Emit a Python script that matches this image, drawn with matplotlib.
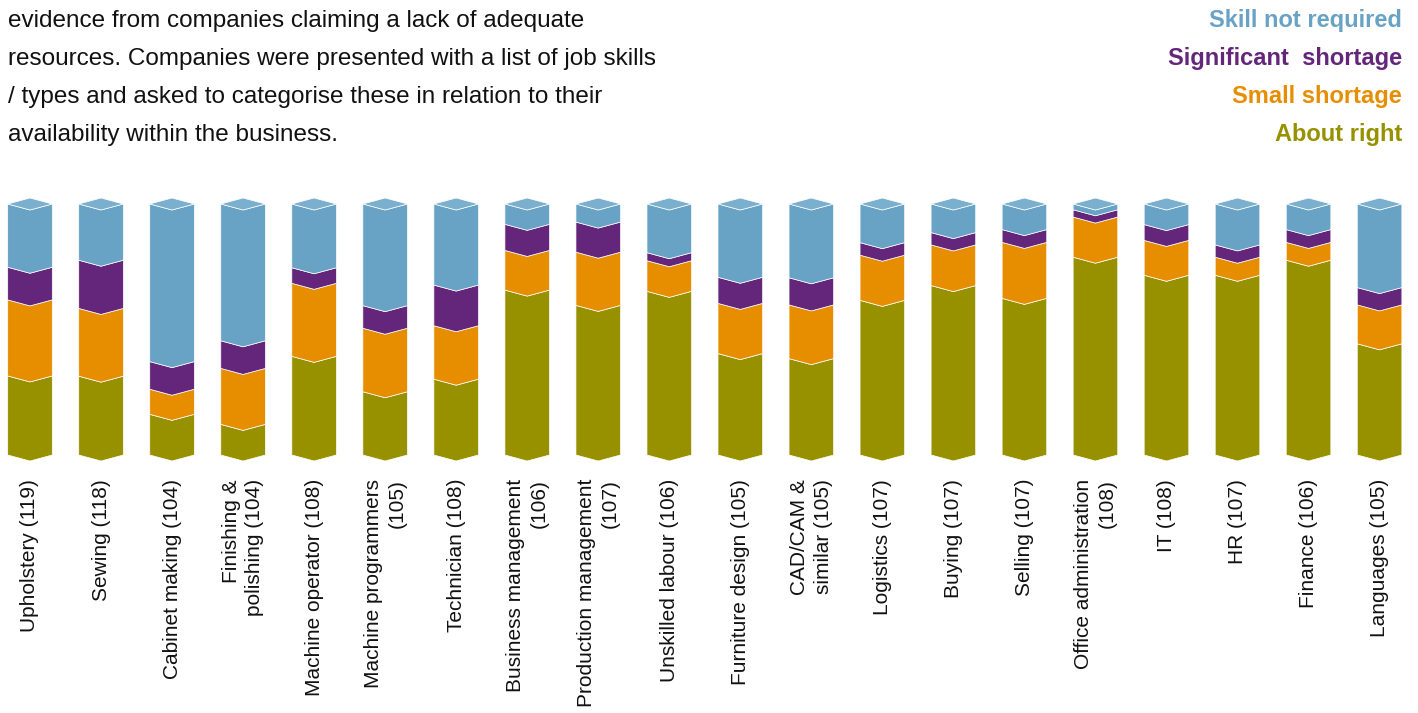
import matplotlib.pyplot as plt
from matplotlib.patches import Polygon

plt.rcParams['font.family'] = ['Liberation Sans', 'DejaVu Sans']

# Share of companies (%) per skill / job type
skills = ["Upholstery (119)", "Sewing (118)", "Cabinet making (104)",
          "Finishing &\npolishing (104)", "Machine operator (108)",
          "Machine programmers\n(105)", "Technician (108)",
          "Business management\n(106)", "Production management\n(107)",
          "Unskilled labour (106)", "Furniture design (105)",
          "CAD/CAM &\nsimilar (105)", "Logistics (107)", "Buying (107)",
          "Selling (107)", "Office administration\n(108)", "IT (108)",
          "HR (107)", "Finance (106)", "Languages (105)"]
about_right = [31.5, 31.4, 16.2, 12.2, 39.3, 25.2, 30.2, 65.7, 59.6, 65.2,
               40.4, 38.4, 61.6, 67.5, 62.4, 78.8, 71.6, 71.6, 77.6, 44.3]
small_shortage = [30.3, 27.0, 10.0, 22.3, 29.1, 25.3, 21.3, 15.8, 21.2, 12.2,
                  20.0, 21.4, 18.0, 16.2, 22.3, 16.0, 13.9, 7.2, 7.1, 15.5]
significant_shortage = [13.0, 19.2, 11.0, 11.0, 6.2, 9.0, 16.2, 10.4, 12.0, 3.2,
                        10.4, 10.8, 5.0, 4.9, 5.1, 2.9, 6.3, 4.9, 5.1, 6.9]
not_required = [25.2, 22.4, 62.8, 54.5, 25.4, 40.5, 32.3, 8.1, 7.2, 19.4,
                29.2, 29.4, 15.4, 11.4, 10.2, 2.3, 8.2, 16.3, 10.2, 33.3]

series = [("About right", about_right, "#979100"),
          ("Small shortage", small_shortage, "#E68E00"),
          ("Significant  shortage", significant_shortage, "#64267A"),
          ("Skill not required", not_required, "#68A2C4")]
top_face = "#7BAFCE"

intro = ["evidence from companies claiming a lack of adequate",
         "resources. Companies were presented with a list of job skills",
         "/ types and asked to categorise these in relation to their",
         "availability within the business."]

W, H = 1418, 713
fig = plt.figure(figsize=(W / 100, H / 100), dpi=100)
ax = fig.add_axes([0, 0, 1, 1])

# pixel layout: bar i centred at 30 + 71.03*i, 0% at y=455, 100% at y=204
step = 71.03
ppu = 2.51
ax.set_xlim(-30 / step, (W - 30) / step)
ax.set_ylim(-(H - 455) / ppu, 455 / ppu)
ax.axis("off")

half = 22.3 / step
d = 6 / ppu  # depth of the chevron

for i in range(len(skills)):
    l, c, r = i - half, i, i + half
    base = 0
    for name, vals, col in series:
        top = base + vals[i]
        pts = [(l, base), (c, base - d), (r, base),
               (r, top), (c, top - d), (l, top)]
        ax.add_patch(Polygon(pts, closed=True, facecolor=col,
                             edgecolor="white", linewidth=0.5))
        base = top
    # lighter top face of the column
    ax.add_patch(Polygon([(l, base), (c, base + d), (r, base), (c, base - d)],
                         closed=True, facecolor=top_face,
                         edgecolor="white", linewidth=0.5))
    ax.text(i, -24 / ppu, skills[i], rotation=90, ha="center", va="top",
            multialignment="right", fontsize=15, linespacing=1.3,
            color="#111111")

for k, line in enumerate(intro):
    fig.text(8 / W, 1 - (27 + 38 * k) / H, line, ha="left",
             va="baseline", fontsize=17.5, color="#111111")

for k, (name, vals, col) in enumerate(reversed(series)):
    fig.text(1402 / W, 1 - (27 + 38 * k) / H, name, ha="right",
             va="baseline", fontsize=17, fontweight="bold", color=col)

fig.savefig("out.png", dpi=100)
